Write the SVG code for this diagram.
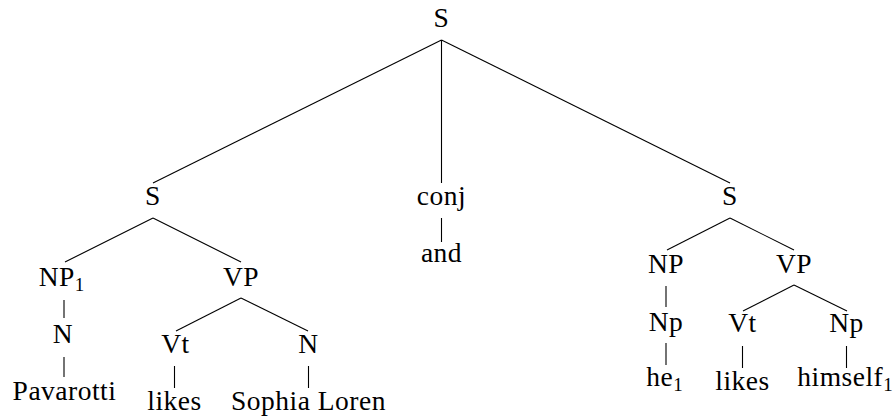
<svg xmlns="http://www.w3.org/2000/svg" width="894" height="419" viewBox="0 0 894 419">
<style>
text{font-family:"Liberation Serif","Times New Roman",serif;font-size:27.5px;letter-spacing:0.5px;fill:#000;text-anchor:middle}
.sub{font-size:19px;letter-spacing:0}
line{stroke:#000;stroke-width:1.1}
</style>
<rect width="894" height="419" fill="#fff"/>
<g id="connectors">
<line x1="441.5" y1="40" x2="153" y2="183"/>
<line x1="441.5" y1="40" x2="441.5" y2="183"/>
<line x1="441.5" y1="40" x2="730" y2="183"/>
<line x1="441.5" y1="218" x2="441.5" y2="242"/>
<line x1="153" y1="218" x2="65" y2="262"/>
<line x1="153" y1="218" x2="241" y2="262"/>
<line x1="64" y1="300" x2="64" y2="318"/>
<line x1="64" y1="357" x2="64" y2="377"/>
<line x1="241" y1="298" x2="176" y2="331"/>
<line x1="241" y1="298" x2="308" y2="331"/>
<line x1="174.5" y1="366" x2="174.5" y2="388"/>
<line x1="308.5" y1="366" x2="308.5" y2="388"/>
<line x1="730" y1="218" x2="667" y2="250"/>
<line x1="730" y1="218" x2="794" y2="250"/>
<line x1="666" y1="286" x2="666" y2="307"/>
<line x1="666" y1="343" x2="666" y2="365"/>
<line x1="794" y1="285" x2="743" y2="311"/>
<line x1="794" y1="285" x2="847" y2="311"/>
<line x1="742.5" y1="346" x2="742.5" y2="368"/>
<line x1="846.5" y1="346" x2="846.5" y2="368"/>
</g>
<g font-family="Liberation Serif, serif">
<g id="n-root"><text x="441.5" y="27">S</text></g>
<g id="n-s1"><text x="153" y="205">S</text></g>
<g id="n-conj"><text x="441.5" y="205">conj</text></g>
<g id="n-and"><text x="441.5" y="262">and</text></g>
<g id="n-s2"><text x="730" y="205">S</text></g>
<g id="n-np1"><text x="61.5" y="286">NP<tspan class="sub" dy="5">1</tspan></text></g>
<g id="n-vp1"><text x="241" y="286">VP</text></g>
<g id="n-n1"><text x="63" y="343">N</text></g>
<g id="n-pavarotti"><text x="64.5" y="400">Pavarotti</text></g>
<g id="n-vt1"><text x="175.5" y="353">Vt</text></g>
<g id="n-n2"><text x="308.5" y="353">N</text></g>
<g id="n-likes1"><text x="174.5" y="410">likes</text></g>
<g id="n-sophia"><text x="308.5" y="410">Sophia Loren</text></g>
<g id="n-np2"><text x="666" y="273">NP</text></g>
<g id="n-vp2"><text x="794" y="273">VP</text></g>
<g id="n-np3"><text x="666" y="331">Np</text></g>
<g id="n-he"><text x="664.5" y="386">he<tspan class="sub" dy="5">1</tspan></text></g>
<g id="n-vt2"><text x="742.5" y="332">Vt</text></g>
<g id="n-np4"><text x="846.5" y="332">Np</text></g>
<g id="n-likes2"><text x="742.5" y="390">likes</text></g>
<g id="n-himself"><text x="845" y="386">himself<tspan class="sub" dy="5">1</tspan></text></g>
</g>
</svg>
